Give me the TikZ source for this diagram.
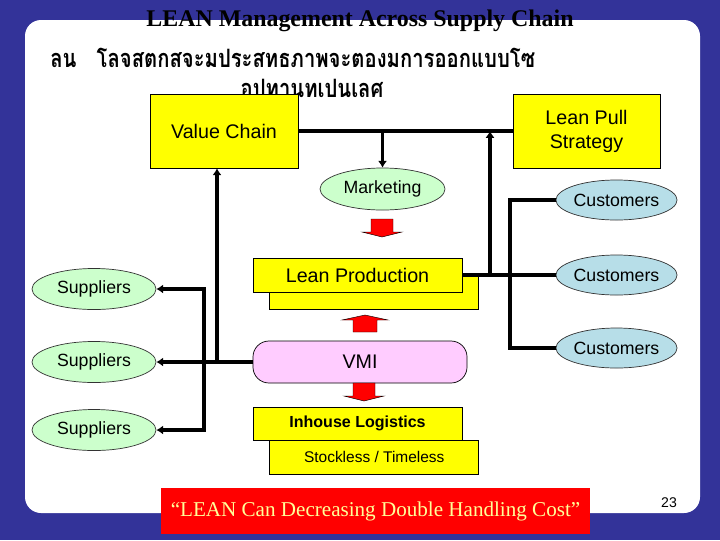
\documentclass[tikz,border=0pt]{standalone}
\usepackage{fontspec}
\setmainfont{Liberation Sans}
\newfontfamily\serifrm{Liberation Serif}
\newfontfamily\thaifont[Script=Thai]{Loma}
\usepackage{tikz}
\usetikzlibrary{arrows.meta}
\usetikzlibrary{shapes.geometric}

\definecolor{slideblue}{RGB}{51,51,153}
\definecolor{boxyellow}{RGB}{255,255,0}
\definecolor{mintgreen}{RGB}{204,255,204}
\definecolor{paleblue}{RGB}{183,222,232}
\definecolor{palepink}{RGB}{255,204,255}
\definecolor{quoteyellow}{RGB}{255,255,153}

\begin{document}
\begin{tikzpicture}[x=0.025cm, y=-0.025cm,
		yellowbox/.style={draw, fill=boxyellow, line width=0.5pt, inner sep=0pt, minimum width=5.225cm, minimum height=0.85cm},
		oval/.style={draw=black!80, ellipse, line width=0.5pt, inner sep=0pt, font=\fontsize{12.6}{15}\selectfont},
		link/.style={line width=2.5pt},
		pointer/.style={link, -{Latex[length=1.7mm,width=2.3mm]}},
		fatarrow/.style={fill=red, draw=black, line width=0.3pt},
		pics/fatdown/.style={code={\draw[fatarrow] (-11,0) -- (11,0) -- (11,13) -- (20,13) -- (0,18) -- (-20,13) -- (-11,13) -- cycle;}},
		pics/fatup/.style={code={\draw[fatarrow] (-12,0) -- (12,0) -- (12,-12) -- (23,-12) -- (0,-17) -- (-23,-12) -- (-12,-12) -- cycle;}}]
		\fill[slideblue] (0,0) rectangle (720,540);
		\fill[white, rounded corners=0.4cm] (25,20) rectangle (700,513);

		% headings
		\node (title) at (360,21) {\serifrm\bfseries\fontsize{17}{20}\selectfont LEAN Management Across Supply Chain};
		\node[anchor=west, inner sep=0pt] (thaione) at (50,58) {\scalebox{0.8}[1]{\thaifont\bfseries\fontsize{18}{21}\selectfont ลน\quad โลจสตกสจะมประสทธภาพจะตองมการออกแบบโซ}};
		\node[inner sep=0pt] (thaitwo) at (312,88) {\scalebox{0.8}[1]{\thaifont\bfseries\fontsize{18}{21}\selectfont อปทานทเปนเลศ}};

		% boxes
		\node[yellowbox, minimum width=3.7cm, minimum height=1.85cm, font=\fontsize{14}{17}\selectfont] (valuechain) at (224,131) {Value Chain};
		\node[yellowbox, minimum width=3.68cm, minimum height=1.85cm, align=center, font=\fontsize{14}{17}\selectfont] (leanpull) at (586.5,131) {Lean Pull\\Strategy};
		\node[oval, fill=mintgreen, minimum width=3.125cm, minimum height=1.05cm] (marketing) at (382.5,189) {Marketing};
		\node[yellowbox] (leanprodback) at (374.25,292) {};
		\node[yellowbox, font=\fontsize{14}{17}\selectfont] (leanprod) at (357.5,275) {Lean Production};
		\node[draw, fill=palepink, line width=0.5pt, rounded corners=0.4cm, minimum width=5.35cm, minimum height=1.05cm, font=\fontsize{14}{17}\selectfont] (vmi) at (360,362) {VMI};
		\node[yellowbox, font=\fontsize{11}{13}\selectfont] (stockless) at (374.25,457) {Stockless / Timeless};
		\node[yellowbox, minimum height=0.825cm, font=\bfseries\fontsize{11.4}{14}\selectfont] (inhouse) at (357.5,423.5) {Inhouse Logistics};

		\node[oval, fill=paleblue, minimum width=2.925cm, minimum height=1cm] (customers1) at (616.5,200) {Customers};
		\node[oval, fill=paleblue, minimum width=2.925cm, minimum height=1cm] (customers2) at (616.5,275) {Customers};
		\node[oval, fill=paleblue, minimum width=2.925cm, minimum height=1cm] (customers3) at (616.5,348) {Customers};
		\node[oval, fill=mintgreen, minimum width=3.1cm, minimum height=1.025cm] (suppliers1) at (94,289) {Suppliers};
		\node[oval, fill=mintgreen, minimum width=3.1cm, minimum height=1.025cm] (suppliers2) at (94,362) {Suppliers};
		\node[oval, fill=mintgreen, minimum width=3.1cm, minimum height=1.025cm] (suppliers3) at (94,430) {Suppliers};

		\node[fill=red, minimum width=10.725cm, minimum height=1.15cm, text=quoteyellow, font=\serifrm\fontsize{15}{18}\selectfont] (quote) at (375.5,511) {“LEAN Can Decreasing Double Handling Cost”};
		\node[font=\fontsize{10}{12}\selectfont] (pageno) at (669,503) {23};

		% connectors
		\coordinate (pullup) at (490,275);
		\coordinate (custbus) at (510,200);
		\coordinate (vcup) at (217,362);
		\coordinate (supbus) at (204,362);
		\draw[link] (valuechain.east) -- (leanpull.west);
		\draw[pointer] (valuechain.east -| marketing.north) -- (marketing.north);
		\draw[link] (leanprod.east) -- (customers2.west);
		\draw[pointer] (pullup) -- (pullup |- leanpull.west);
		\draw[link] (customers1.west) -| (custbus |- customers3.west) -- (customers3.west);
		\draw[pointer] (vmi.west) -- (suppliers2.east);
		\draw[pointer] (vcup) -- (vcup |- valuechain.south);
		\draw[pointer] (supbus) |- (suppliers1.east);
		\draw[pointer] (supbus) |- (suppliers3.east);

		% block arrows
		\pic at (382,219) {fatdown};
		\pic at (365,332) {fatup};
		\pic at (364,383) {fatdown};
	\end{tikzpicture}
\end{document}
